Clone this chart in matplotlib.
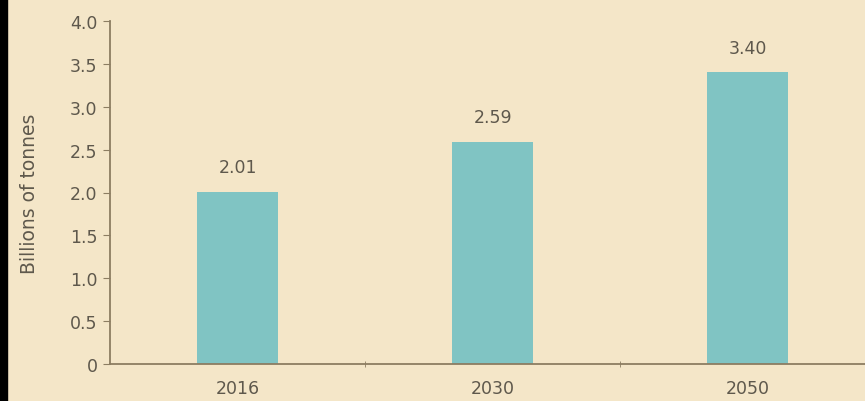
import matplotlib.pyplot as plt
from matplotlib.patches import Rectangle

years = ['2016', '2030', '2050']
waste = [2.01, 2.59, 3.40]
yticks = [0, 0.5, 1.0, 1.5, 2.0, 2.5, 3.0, 3.5, 4.0]
ytick_labels = ['0', '0.5', '1.0', '1.5', '2.0', '2.5', '3.0', '3.5', '4.0']

bg = '#f4e6c8'
bar_color = '#80c4c3'
axis_color = '#8c7d62'
text_color = '#5e584c'
fs = 12.5

fig = plt.figure(figsize=(8.65, 4.02), dpi=100, facecolor=bg)
ax = fig.add_axes([110 / 865, 37 / 402, 755 / 865, 343 / 402], facecolor=bg)

# dark strip along the left edge
fig.patches.append(Rectangle((0, 0), 7 / 865, 1, transform=fig.transFigure,
                             color='black', zorder=0))

x = range(len(years))
ax.bar(x, waste, width=0.32, color=bar_color, zorder=2)
for xi, v in zip(x, waste):
    ax.text(xi, v + 0.18, f'{v:.2f}', ha='center', va='bottom',
            fontsize=fs, color=text_color)

ax.set_ylim(0, 4.0)
ax.set_xlim(-0.5, 2.46)
ax.set_yticks(yticks)
ax.set_yticklabels(ytick_labels)
ax.set_xticks(x)
ax.set_xticklabels(years)
ax.set_xticks([0.5, 1.5], minor=True)

for side in ['top', 'right']:
    ax.spines[side].set_visible(False)
for side in ['left', 'bottom']:
    ax.spines[side].set_color(axis_color)
    ax.spines[side].set_linewidth(1.3)

ax.tick_params(axis='y', length=5, color=axis_color, labelcolor=text_color,
               labelsize=fs, pad=4)
ax.tick_params(axis='x', which='major', length=0, labelcolor=text_color,
               labelsize=fs, pad=11)
ax.tick_params(axis='x', which='minor', length=5, direction='inout',
               color=axis_color)

ax.set_ylabel('Billions of tonnes', fontsize=13.5, color=text_color, labelpad=22)

fig.savefig('out.png', dpi=100, facecolor=bg)
